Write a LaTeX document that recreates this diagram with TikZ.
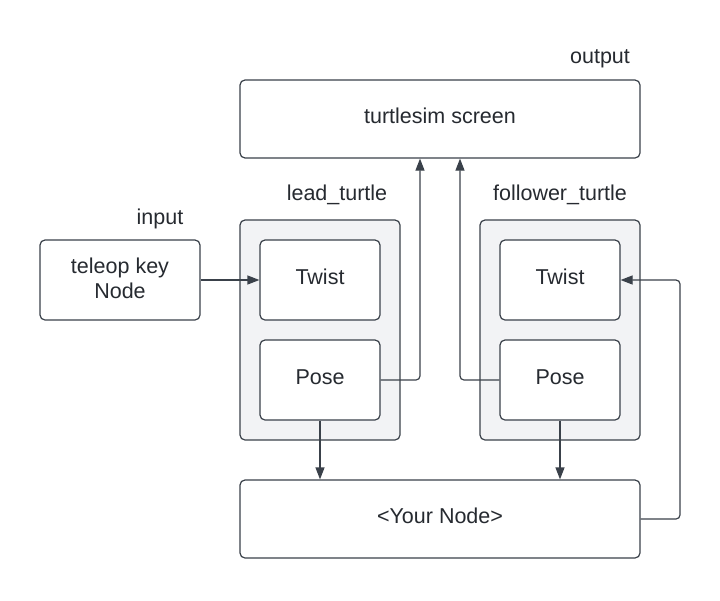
\documentclass[tikz,border=0pt]{standalone}
\usepackage{fontspec}
\setmainfont{Liberation Sans}
\usetikzlibrary{arrows.meta}
\definecolor{strokec}{HTML}{3A414A}
\definecolor{textc}{HTML}{262A30}
\definecolor{groupc}{HTML}{F2F3F5}
\newcommand{\up}[1]{\raisebox{6pt}{#1}}
\tikzset{
  box/.style={draw=strokec, line width=1.2pt, rounded corners=5pt, fill=white, inner sep=0pt, font=\fontsize{21.5}{24.5}\selectfont, text=textc, align=center},
  grp/.style={draw=strokec, line width=1.2pt, rounded corners=5pt, fill=groupc, inner sep=0pt},
  lbl/.style={font=\fontsize{21.5}{24.5}\selectfont, text=textc, inner sep=0pt},
  conn/.style={draw=strokec, line width=1.2pt, rounded corners=4pt},
  arr/.style={conn, -{Triangle[length=12pt,width=9pt]}}
}
\begin{document}
\begin{tikzpicture}[x=1pt,y=-1pt]
\useasboundingbox (0,0) rectangle (720,600);
% groups
\node[grp, minimum width=160pt, minimum height=220pt] (lg) at (320,330) {};
\node[grp, minimum width=160pt, minimum height=220pt] (fg) at (560,330) {};
% boxes
\node[box, minimum width=400pt, minimum height=78pt] (screen) at (440,119) {\up{turtlesim screen}};
\node[box, minimum width=160pt, minimum height=80pt] (teleop) at (120,280) {\raisebox{4pt}{\shortstack{teleop key\\[2pt]Node}}};
\node[box, minimum width=120pt, minimum height=80pt] (ltw) at (320,280) {\up{Twist}};
\node[box, minimum width=120pt, minimum height=80pt] (lpo) at (320,380) {\up{Pose}};
\node[box, minimum width=120pt, minimum height=80pt] (ftw) at (560,280) {\up{Twist}};
\node[box, minimum width=120pt, minimum height=80pt] (fpo) at (560,380) {\up{Pose}};
\node[box, minimum width=400pt, minimum height=78pt] (your) at (440,519) {\up{<Your Node>}};
% labels
\node[lbl] (lout) at (600,59) {output};
\node[lbl] (lin) at (160,219) {input};
\node[lbl] (llead) at (337,195) {lead\_turtle};
\node[lbl] (lfol) at (560,195) {follower\_turtle};
% connectors
\draw[arr] (teleop.east) -- (ltw.west);
\draw[arr] (lpo.east) -| ([xshift=-20pt]screen.south);
\draw[arr] (fpo.west) -| ([xshift=20pt]screen.south);
\draw[arr] (lpo.south) -- (lpo.south |- your.north);
\draw[arr] (fpo.south) -- (fpo.south |- your.north);
\coordinate (rc) at (680,0);
\draw[arr] (your.east) -| (rc |- ftw.east) -- (ftw.east);
\end{tikzpicture}
\end{document}
